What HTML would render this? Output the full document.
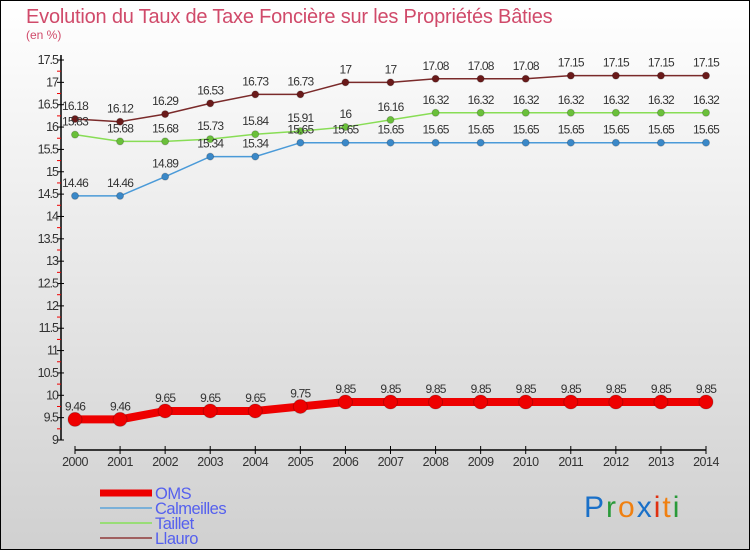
<!DOCTYPE html>
<html><head><meta charset="utf-8"><style>
body{margin:0;}
#wrap{position:relative;width:750px;height:550px;overflow:hidden;}
svg text{font-family:"Liberation Sans",sans-serif;}
</style></head><body>
<div id="wrap">
<svg id="chart" width="750" height="550" xmlns="http://www.w3.org/2000/svg">
<defs><linearGradient id="bg" x1="0" y1="0" x2="0" y2="1"><stop offset="0" stop-color="#ffffff"/><stop offset="1" stop-color="#d0d0d0"/></linearGradient></defs>
<rect x="0.5" y="0.5" width="749" height="549" fill="url(#bg)" stroke="#000"/>
<text x="26" y="23" font-size="20" fill="#d04a6a" letter-spacing="-0.2">Evolution du Taux de Taxe Foncière sur les Propriétés Bâties</text>
<text x="26" y="39" font-size="12" fill="#d04a6a">(en %)</text>
<g id="axes"></g>
<g id="series"></g>
<g id="legend"></g>
<text x="584" y="517" font-size="30" fill="#1a70c8" letter-spacing="2">P<tspan fill="#2a9a3a">r</tspan><tspan fill="#f08010">o</tspan><tspan fill="#1a70c8">x</tspan><tspan fill="#e03010">i</tspan><tspan fill="#f08010">t</tspan><tspan fill="#2a9a3a">i</tspan></text>
</svg>
</div>
<script>
const years=["2000","2001","2002","2003","2004","2005","2006","2007","2008","2009","2010","2011","2012","2013","2014"];
const oms=[9.46,9.46,9.65,9.65,9.65,9.75,9.85,9.85,9.85,9.85,9.85,9.85,9.85,9.85,9.85];
const calmeilles=[14.46,14.46,14.89,15.34,15.34,15.65,15.65,15.65,15.65,15.65,15.65,15.65,15.65,15.65,15.65];
const taillet=[15.83,15.68,15.68,15.73,15.84,15.91,16,16.16,16.32,16.32,16.32,16.32,16.32,16.32,16.32];
const llauro=[16.18,16.12,16.29,16.53,16.73,16.73,17,17,17.08,17.08,17.08,17.15,17.15,17.15,17.15];
const yTicks=["9","9.5","10","10.5","11","11.5","12","12.5","13","13.5","14","14.5","15","15.5","16","16.5","17","17.5"];
const NS="http://www.w3.org/2000/svg";
function x(i){return 75+i*(706-75)/(years.length-1);}
function y(v){return 440-(v-9)*(380/8.5);}
function mk(t,a,p){const e=document.createElementNS(NS,t);for(const k in a)e.setAttribute(k,a[k]);p.appendChild(e);return e;}
const ax=document.getElementById('axes');
const yl=mk('line',{x1:61,y1:55,x2:61,y2:440,stroke:'#000','stroke-width':1.5},ax);


yTicks.forEach(t=>{const v=parseFloat(t);const yy=y(v);
 mk('line',{x1:57,y1:yy,x2:64,y2:yy,stroke:'#000'},ax);
 if(v<17.5){mk('line',{x1:57,y1:y(v+0.25),x2:61,y2:y(v+0.25),stroke:'#e00'},ax);}
 const tx=mk('text',{x:58,y:yy+4,'font-size':12.5,'text-anchor':'end',fill:'#333','letter-spacing':'-1'},ax);tx.textContent=t;
 
 
});
const xl=mk('line',{x1:75,y1:450,x2:706,y2:450,stroke:'#000','stroke-width':1.5},ax);


years.forEach((yr,i)=>{mk('line',{x1:x(i),y1:446,x2:x(i),y2:454,stroke:'#000'},ax);
 const tx=mk('text',{x:x(i),y:466,'font-size':12.5,'text-anchor':'middle',fill:'#333','letter-spacing':'-0.5'},ax);tx.textContent=yr;
 
 
});
const sg=document.getElementById('series');
function series(name,data,col,w,r,dot){
 const g=mk('g',{},sg);
 
 
 const pts=data.map((v,i)=>x(i)+','+y(v)).join(' ');
 mk('polyline',{points:pts,fill:'none',stroke:col,'stroke-width':w},g);
 data.forEach((v,i)=>{const c=mk('circle',{cx:x(i),cy:y(v),r:r,fill:dot,stroke:'#0003','stroke-width':1},g);
  
  
  const t=mk('text',{x:x(i),y:y(v)-9,'font-size':12,'text-anchor':'middle',fill:'#333','letter-spacing':'-0.8'},g);t.textContent=String(v);
  
  
 });
}
series('llauro',llauro,'#7a2a2a',1.5,3.5,'#6a1a1a');
series('taillet',taillet,'#88dd55',1.5,3.5,'#6ac03a');
series('calmeilles',calmeilles,'#4a9ad8',1.5,3.5,'#3a88c8');
series('oms',oms,'#ee0000',8,7,'#ee0000');
const lg=document.getElementById('legend');
const items=[["OMS","#ee0000",7],["Calmeilles","#7ab0d8",2],["Taillet","#99dd77",2],["Llauro","#a06060",2]];
items.forEach((it,i)=>{const yy=493+i*15;
 const l=mk('line',{x1:100,y1:yy,x2:152,y2:yy,stroke:it[1],'stroke-width':it[2]},lg);
 
 
 const t=mk('text',{x:155,y:yy+6,'font-size':16.5,fill:'#5560ee','letter-spacing':'-0.5'},lg);t.textContent=it[0];
 
 
});
</script>
</body></html>
